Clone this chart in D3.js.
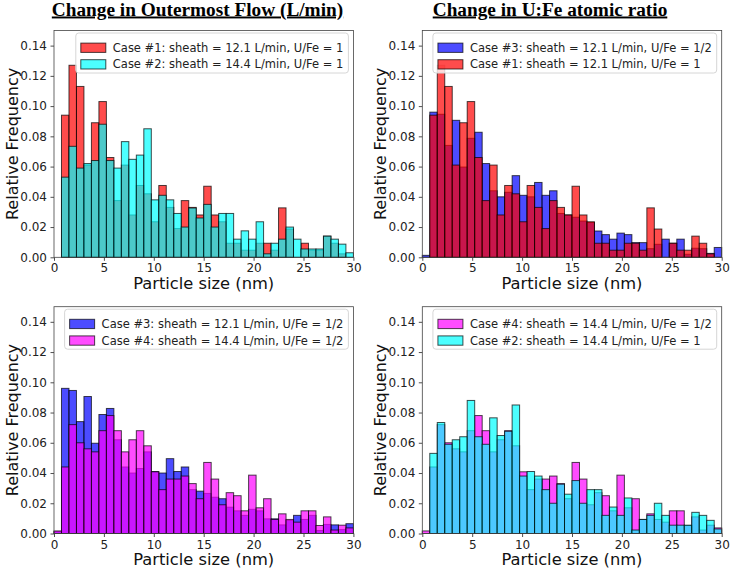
<!DOCTYPE html>
<html>
<head>
<meta charset="utf-8">
<script src="https://cdn.jsdelivr.net/npm/d3@7"></script>
<style>
  body { margin: 0; background: #fff; }
  svg { display: block; font-family: "DejaVu Sans", sans-serif; }
</style>
</head>
<body>
<svg id="chart" width="731" height="571"></svg>
<script>
// histogram bins: 40 bins of 0.75 nm from 0 to 30
const binWidth = 0.75
const xTicks = [0, 5, 10, 15, 20, 25, 30]
const yTicks = [0, 0.02, 0.04, 0.06, 0.08, 0.10, 0.12, 0.14]

// relative frequency per bin
const case1 = [0, 0.094, 0.127, 0.113, 0.061, 0.089, 0.103, 0.066, 0.0375, 0.061,
  0.028, 0.0475, 0.042, 0.0235, 0.0475, 0.033, 0.019, 0.0375, 0.033, 0.028,
  0.047, 0.028, 0.0235, 0.0093, 0.0093, 0.0047, 0.0047, 0.0093, 0.0093, 0.0047,
  0.0327, 0.0187, 0, 0.0093, 0.0047, 0.0047, 0.014, 0.0093, 0.0023, 0]
const case2 = [0, 0.053, 0.0734, 0.059, 0.062, 0.064, 0.088, 0.064, 0.059, 0.0765,
  0.0648, 0.0676, 0.085, 0.038, 0.041, 0.038, 0.029, 0.020, 0.0326, 0.026,
  0.035, 0.020, 0.029, 0.029, 0.012, 0.0175, 0.012, 0.0235, 0.0023, 0.0093,
  0.012, 0.020, 0.012, 0.0055, 0.0055, 0.0055, 0.014, 0.012, 0.0087, 0.003]
const case3 = [0.0013, 0.096, 0.0946, 0.074, 0.0906, 0.0597, 0.0787, 0.0827, 0.062, 0.044,
  0.040, 0.043, 0.054, 0.041, 0.040, 0.0495, 0.041, 0.044, 0.029, 0.028,
  0.0265, 0.024, 0.023, 0.0174, 0.015, 0.012, 0.016, 0.015, 0.0097, 0.0097,
  0.0057, 0.0086, 0.012, 0.0093, 0.012, 0.002, 0.006, 0.0057, 0.0026, 0.0065]
const case4 = [0.0017, 0.044, 0.072, 0.060, 0.056, 0.054, 0.068, 0.078, 0.068, 0.054,
  0.062, 0.068, 0.058, 0.0408, 0.029, 0.036, 0.036, 0.038, 0.033, 0.023,
  0.047, 0.036, 0.019, 0.027, 0.025, 0.015, 0.0386, 0.017, 0.023, 0.0093,
  0.013, 0.0093, 0.0075, 0.015, 0.015, 0.0053, 0.011, 0.0023, 0.0055, 0.0037]

const cases = {
  c1: { values: case1, color: "red", label: "Case #1: sheath = 12.1 L/min, U/Fe = 1" },
  c2: { values: case2, color: "cyan", label: "Case #2: sheath = 14.4 L/min, U/Fe = 1" },
  c3: { values: case3, color: "blue", label: "Case #3: sheath = 12.1 L/min, U/Fe = 1/2" },
  c4: { values: case4, color: "magenta", label: "Case #4: sheath = 14.4 L/min, U/Fe = 1/2" }
}

const titles = ["Change in Outermost Flow (L/min)", "Change in U:Fe atomic ratio"]
const titleX = [197.5, 550]

const panels = [
  { left: 54, top: 30.5, series: ["c1", "c2"] },
  { left: 422.3, top: 30.5, series: ["c3", "c1"] },
  { left: 54, top: 306.7, series: ["c3", "c4"] },
  { left: 422.3, top: 306.7, series: ["c4", "c2"] }
]

const pw = 299.4
const ph = 226.8

const svg = d3.select("#chart")

titles.forEach((t, i) => {
  svg.append("text")
    .attr("x", titleX[i])
    .attr("y", 15.5)
    .attr("text-anchor", "middle")
    .attr("font-family", "'Liberation Serif', 'Times New Roman', serif")
    .attr("font-weight", "bold")
    .attr("font-size", 19.3)
    .attr("text-decoration", "underline")
    .attr("fill", "#000")
    .text(t)
})

panels.forEach(p => {
  const x = d3.scaleLinear().domain([0, 30]).range([0, pw])
  const y = d3.scaleLinear().domain([0, 0.15]).range([ph, 0])

  const g = svg.append("g").attr("transform", `translate(${p.left},${p.top})`)

  // bars, first series underneath
  p.series.forEach(key => {
    const s = cases[key]
    g.append("g").selectAll("rect")
      .data(s.values.map((v, i) => ({ x0: i * binWidth, v: v })).filter(d => d.v > 0))
      .join("rect")
      .attr("x", d => x(d.x0))
      .attr("y", d => y(d.v))
      .attr("width", x(binWidth) - x(0))
      .attr("height", d => y(0) - y(d.v))
      .attr("fill", s.color)
      .attr("fill-opacity", 0.7)
      .attr("stroke", "#000")
      .attr("stroke-opacity", 0.7)
      .attr("stroke-width", 1)
  })

  // axes
  const xAxis = g.append("g")
    .attr("transform", `translate(0,${ph})`)
    .call(d3.axisBottom(x).tickValues(xTicks).tickSize(3.5).tickPadding(3).tickFormat(d3.format("d")))
  const yAxis = g.append("g")
    .call(d3.axisLeft(y).tickValues(yTicks).tickSize(3.5).tickPadding(3.5).tickFormat(d3.format(".2f")))
  ;[xAxis, yAxis].forEach(a => {
    a.select(".domain").remove()
    a.selectAll(".tick line").attr("stroke", "#222").attr("stroke-width", 0.8)
    a.selectAll(".tick text").attr("font-size", 12).attr("fill", "#222")
      .attr("font-family", "'DejaVu Sans', sans-serif")
  })

  // frame
  g.append("rect")
    .attr("width", pw).attr("height", ph)
    .attr("fill", "none")
    .attr("stroke", "#444")
    .attr("stroke-width", 0.8)

  g.append("text")
    .attr("x", pw / 2)
    .attr("y", ph + 31.5)
    .attr("text-anchor", "middle")
    .attr("font-size", 16.3)
    .attr("fill", "#111")
    .text("Particle size (nm)")

  g.append("text")
    .attr("transform", `translate(${-36},${ph / 2}) rotate(-90)`)
    .attr("text-anchor", "middle")
    .attr("font-size", 16)
    .attr("fill", "#111")
    .text("Relative Frequency")

  // legend, upper right
  const lg = g.append("g")
  const box = lg.append("rect")
    .attr("rx", 3)
    .attr("fill", "#fff").attr("fill-opacity", 0.8)
    .attr("stroke", "#d6d6d6").attr("stroke-width", 1)
  let maxW = 0
  p.series.forEach((key, i) => {
    const s = cases[key]
    const cy = 14.8 + i * 16.6
    lg.append("rect")
      .attr("x", 5).attr("y", cy - 4.7)
      .attr("width", 25).attr("height", 9.3)
      .attr("fill", s.color).attr("fill-opacity", 0.7)
      .attr("stroke", "#000").attr("stroke-opacity", 0.7)
    const t = lg.append("text")
      .attr("x", 37).attr("y", cy)
      .attr("dy", "0.35em")
      .attr("font-size", 11.5)
      .attr("fill", "#222")
      .text(s.label)
    maxW = Math.max(maxW, t.node().getComputedTextLength())
  })
  const bw = 37 + maxW + 5
  box.attr("width", bw).attr("height", 40)
  lg.attr("transform", `translate(${pw - 5 - bw},${2.5})`)
})
</script>
</body>
</html>
